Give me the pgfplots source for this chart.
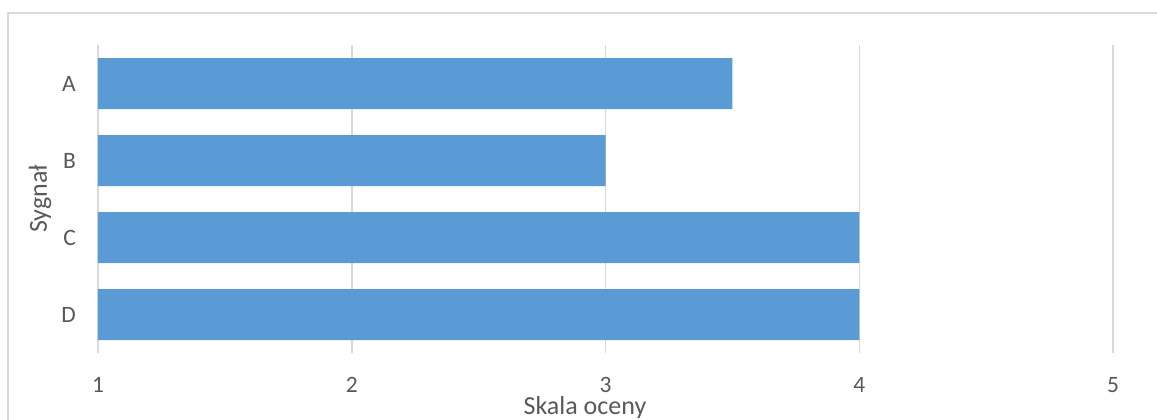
\documentclass[border=0pt]{standalone}
\usepackage{pgfplots}
\pgfplotsset{compat=1.18}
\usepackage{fontspec}
\setmainfont{Carlito}
\definecolor{barblue}{HTML}{5B9BD5}
\definecolor{gridgray}{HTML}{D9D9D9}
\definecolor{txtgray}{HTML}{595959}
\begin{document}
\begin{tikzpicture}[x=1bp,y=1bp]
\useasboundingbox (-98bp,-67bp) rectangle (1059bp,353bp);
\draw[gridgray, line width=1.5bp] (-90bp,-70bp) -- (-90bp,340bp) -- (1065bp,340bp);
\begin{axis}[
  at={(0,0)}, anchor=south west,
  scale only axis,
  width=1015bp, height=308bp,
  xbar, bar width=51bp,
  xmin=1, xmax=5, ymin=-0.5, ymax=3.5,
  xtick={1,2,3,4,5},
  ytick={0,1,2,3},
  yticklabels={D,C,B,A},
  major tick length=0pt,
  axis line style={draw=none},
  xmajorgrids,
  grid style={gridgray, line width=1.5bp},
  tick label style={font=\fontsize{23.5bp}{28bp}\selectfont, text=txtgray},
  xticklabel style={anchor=base, yshift=-39bp, inner sep=0pt},
  yticklabel style={anchor=east, inner sep=0pt, xshift=-22bp},
  xlabel={Skala oceny},
  ylabel={Sygnał},
  label style={font=\fontsize{26bp}{30bp}\selectfont, text=txtgray},
  xlabel style={at={(axis description cs:0.4798,-0.2013)}, anchor=base},
  ylabel style={at={(axis description cs:-0.0571,0.5)}, anchor=center},
  /pgf/number format/assume math mode=true,
]
\addplot[draw=none, fill=barblue] coordinates {(3.5,3) (3,2) (4,1) (4,0)};
\end{axis}
\end{tikzpicture}
\end{document}
